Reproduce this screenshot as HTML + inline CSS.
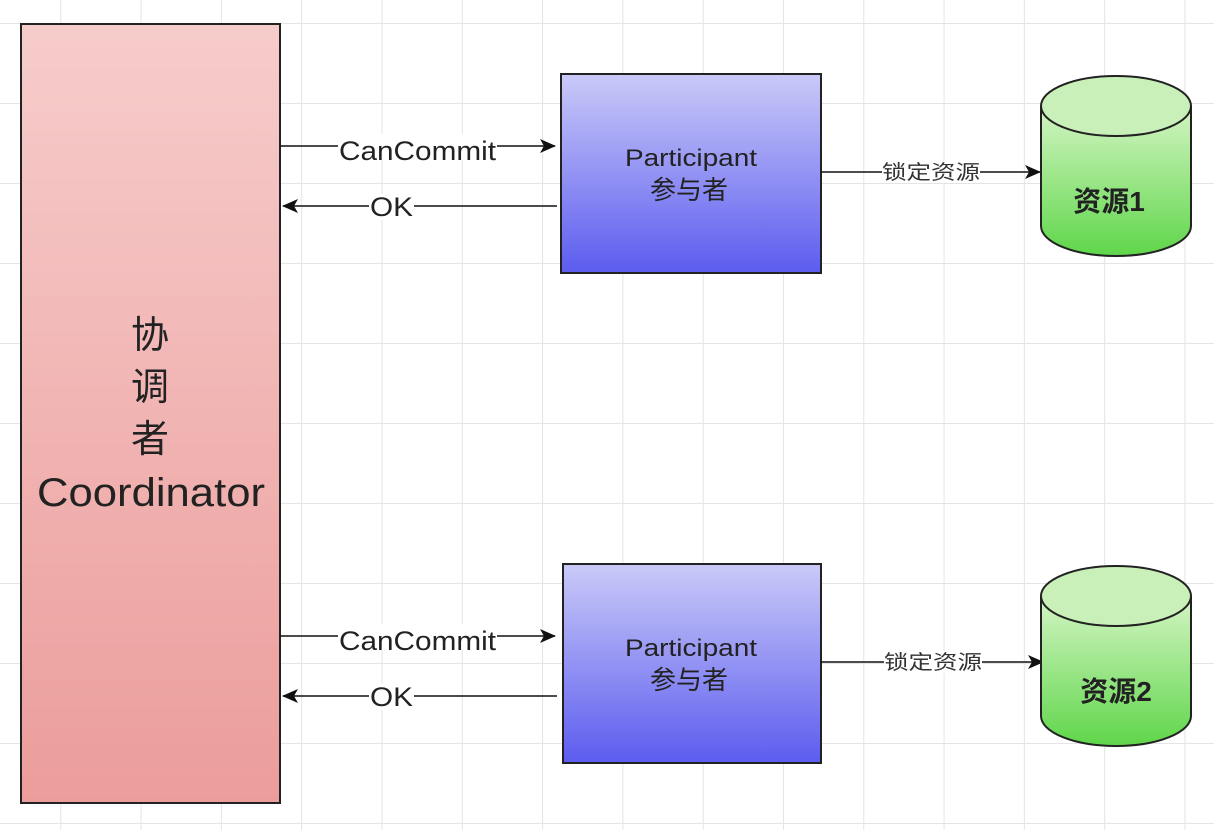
<!DOCTYPE html>
<html><head><meta charset="utf-8"><style>
html,body{margin:0;padding:0;background:#fff}
body{width:1214px;height:830px;overflow:hidden;position:relative;
background-image:linear-gradient(#e4e4e4 1px,transparent 1px),linear-gradient(90deg,#e4e4e4 1px,transparent 1px);
background-size:80.3px 80px;background-position:-20px 23px}
svg{position:absolute;left:0;top:0}
text{font-family:"Liberation Sans","Noto Sans CJK SC",sans-serif}
</style></head><body>
<svg width="1214" height="830" viewBox="0 0 1214 830">
<defs>
<linearGradient id="r" x1="0" y1="0" x2="0" y2="1"><stop offset="0" stop-color="#f6cccb"/><stop offset="1" stop-color="#eb9d9b"/></linearGradient>
<linearGradient id="b" x1="0" y1="0" x2="0" y2="1"><stop offset="0" stop-color="#cacaf8"/><stop offset="1" stop-color="#5c5cf0"/></linearGradient>
<linearGradient id="g" x1="0" y1="0" x2="0" y2="1"><stop offset="0" stop-color="#d4f5c4"/><stop offset="1" stop-color="#5fd64a"/></linearGradient>
<marker id="a" markerWidth="16" markerHeight="14" refX="15" refY="7" orient="auto" markerUnits="userSpaceOnUse"><path d="M0,0 L16,7 L0,14 L4,7 Z" fill="#111"/></marker>
</defs>
<rect x="21" y="24" width="259" height="779" fill="url(#r)" stroke="#222" stroke-width="2"/>
<text x="150" y="348" font-size="38" text-anchor="middle" fill="#222">协</text>
<text x="150" y="400" font-size="38" text-anchor="middle" fill="#222">调</text>
<text x="150" y="452" font-size="38" text-anchor="middle" fill="#222">者</text>
<text x="37" y="506" font-size="40" textLength="228" lengthAdjust="spacingAndGlyphs" fill="#222">Coordinator</text>

<g>
<rect x="561" y="74" width="260" height="199" fill="url(#b)" stroke="#222" stroke-width="2"/>
<text x="625" y="166" font-size="24" textLength="132" lengthAdjust="spacingAndGlyphs" fill="#222">Participant</text>
<text x="689" y="199" font-size="26" text-anchor="middle" fill="#222">参与者</text>
<line x1="280" y1="146" x2="555" y2="146" stroke="#111" stroke-width="1.5" marker-end="url(#a)"/>
<rect x="338" y="134" width="159" height="26" fill="#fff"/>
<text x="339" y="160" font-size="27" textLength="157" lengthAdjust="spacingAndGlyphs" fill="#222">CanCommit</text>
<line x1="557" y1="206" x2="283" y2="206" stroke="#111" stroke-width="1.5" marker-end="url(#a)"/>
<rect x="369" y="194" width="45" height="26" fill="#fff"/>
<text x="370" y="216" font-size="27" textLength="43" lengthAdjust="spacingAndGlyphs" fill="#222">OK</text>
<line x1="821" y1="172" x2="1040" y2="172" stroke="#111" stroke-width="1.5" marker-end="url(#a)"/>
<rect x="882" y="161" width="98" height="22" fill="#fff"/>
<text x="882" y="179" font-size="20" textLength="98" lengthAdjust="spacingAndGlyphs" fill="#333">锁定资源</text>
<path d="M1041,106 L1041,226 A75,30 0 0 0 1191,226 L1191,106" fill="url(#g)" stroke="#222" stroke-width="2"/>
<ellipse cx="1116" cy="106" rx="75" ry="30" fill="#c8f0b8" stroke="#222" stroke-width="2"/>
<text x="1109" y="211" font-size="28" font-weight="bold" text-anchor="middle" fill="#222">资源1</text>
</g>
<g transform="translate(0,490)">
<rect x="563" y="74" width="258" height="199" fill="url(#b)" stroke="#222" stroke-width="2"/>
<text x="625" y="166" font-size="24" textLength="132" lengthAdjust="spacingAndGlyphs" fill="#222">Participant</text>
<text x="689" y="199" font-size="26" text-anchor="middle" fill="#222">参与者</text>
<line x1="280" y1="146" x2="555" y2="146" stroke="#111" stroke-width="1.5" marker-end="url(#a)"/>
<rect x="338" y="134" width="159" height="26" fill="#fff"/>
<text x="339" y="160" font-size="27" textLength="157" lengthAdjust="spacingAndGlyphs" fill="#222">CanCommit</text>
<line x1="557" y1="206" x2="283" y2="206" stroke="#111" stroke-width="1.5" marker-end="url(#a)"/>
<rect x="369" y="194" width="45" height="26" fill="#fff"/>
<text x="370" y="216" font-size="27" textLength="43" lengthAdjust="spacingAndGlyphs" fill="#222">OK</text>
<line x1="821" y1="172" x2="1043" y2="172" stroke="#111" stroke-width="1.5" marker-end="url(#a)"/>
<rect x="884" y="161" width="98" height="22" fill="#fff"/>
<text x="884" y="179" font-size="20" textLength="98" lengthAdjust="spacingAndGlyphs" fill="#333">锁定资源</text>
<path d="M1041,106 L1041,226 A75,30 0 0 0 1191,226 L1191,106" fill="url(#g)" stroke="#222" stroke-width="2"/>
<ellipse cx="1116" cy="106" rx="75" ry="30" fill="#c8f0b8" stroke="#222" stroke-width="2"/>
<text x="1116" y="211" font-size="28" font-weight="bold" text-anchor="middle" fill="#222">资源2</text>
</g>
</svg>
</body></html>
